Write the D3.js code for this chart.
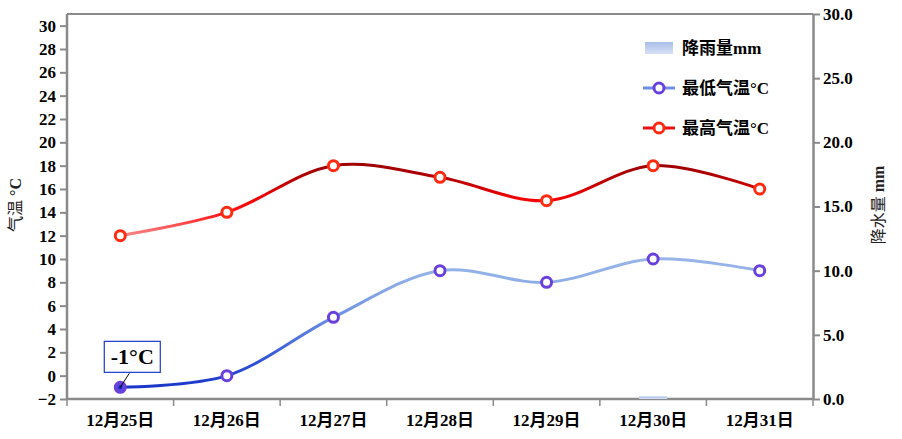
<!DOCTYPE html>
<html><head><meta charset="utf-8">
<script src="https://cdn.jsdelivr.net/npm/d3@7"></script>
<style>
html,body{margin:0;padding:0;background:#fff;}
svg{display:block;}
text{font-family:"Liberation Serif","Noto Sans CJK SC",serif;}
</style></head>
<body>
<svg id="chart" width="902" height="439"></svg>
<script>
const categories = ["12月25日","12月26日","12月27日","12月28日","12月29日","12月30日","12月31日"];
const lowTemp  = [-1, 0, 5, 9, 8, 10, 9];
const highTemp = [12, 14, 18, 17, 15, 18, 16];
const rainfall = [0, 0, 0, 0, 0, 0.2, 0];
const tempTicks = [-2,0,2,4,6,8,10,12,14,16,18,20,22,24,26,28,30];
const rainTicks = [0,5,10,15,20,25,30];
const legendItems = ["降雨量mm","最低气温°C","最高气温°C"];
const annotationText = "-1°C";

const svg = d3.select("#chart");
const L = 67, R = 813, T = 14, B = 399;

const x = d3.scaleBand().domain(categories).range([L, R]).padding(0);
const yT = d3.scaleLinear().domain([-2, 31]).range([B, T]);
const yR = d3.scaleLinear().domain([0, 30]).range([B, T]);

const defs = svg.append("defs");
const gHigh = defs.append("linearGradient").attr("id","gHigh")
  .attr("gradientUnits","userSpaceOnUse").attr("x1",0).attr("x2",0)
  .attr("y1",yT(12)).attr("y2",yT(18));
[[0,"#f58a8a"],[0.3,"#ff1a1a"],[0.55,"#f00000"],[0.8,"#b80000"],[1,"#a00000"]]
  .forEach(s=>gHigh.append("stop").attr("offset",s[0]).attr("stop-color",s[1]));
const gLow = defs.append("linearGradient").attr("id","gLow")
  .attr("gradientUnits","userSpaceOnUse").attr("x1",0).attr("x2",0)
  .attr("y1",yT(-1)).attr("y2",yT(10));
[[0,"#1a36c8"],[0.2,"#2f52d8"],[0.55,"#6e90e2"],[0.85,"#90b0e8"],[1,"#98b4e8"]]
  .forEach(s=>gLow.append("stop").attr("offset",s[0]).attr("stop-color",s[1]));
const gRain = defs.append("linearGradient").attr("id","gRain")
  .attr("x1",0).attr("x2",0).attr("y1",0).attr("y2",1);
[[0,"#a8bde8"],[1,"#d8e2f6"]]
  .forEach(s=>gRain.append("stop").attr("offset",s[0]).attr("stop-color",s[1]));

const axisColor = "#8a8a8a";
const tickFont = "bold 17px 'Liberation Serif','Noto Sans CJK SC',serif";

svg.append("line").attr("x1",L).attr("x2",R).attr("y1",T).attr("y2",T)
  .attr("stroke",axisColor).attr("stroke-width",2);

const gl = svg.append("g").attr("transform",`translate(${L},0)`)
  .call(d3.axisLeft(yT).tickValues(tempTicks).tickSize(7).tickPadding(4).tickSizeOuter(0));
gl.select(".domain").attr("d",`M0,${T}V${B}`);
const gr = svg.append("g").attr("transform",`translate(${R},0)`)
  .call(d3.axisRight(yR).tickValues(rainTicks).tickFormat(d3.format(".1f")).tickSize(7).tickPadding(3).tickSizeOuter(0));
const gb = svg.append("g").attr("transform",`translate(0,${B})`)
  .call(d3.axisBottom(x).tickSize(0).tickPadding(12));
gb.select(".domain").attr("d",`M${L},0H${R}`);
const bounds = categories.map(c=>x(c)).concat([x(categories[categories.length-1])+x.bandwidth()]);
svg.append("g").selectAll("line").data(bounds).join("line")
  .attr("x1",d=>d).attr("x2",d=>d).attr("y1",B).attr("y2",B+7)
  .attr("stroke",axisColor).attr("stroke-width",1.5);

[gl,gr,gb].forEach(g=>{
  g.select(".domain").attr("stroke",axisColor).attr("stroke-width",2.5);
  g.selectAll(".tick line").attr("stroke",axisColor).attr("stroke-width",2);
  g.selectAll(".tick text").style("font",tickFont).attr("fill","#000");
});
gb.selectAll(".tick text").attr("dy","0.9em");

svg.append("text").attr("transform",`translate(21,205) rotate(-90)`)
  .attr("text-anchor","middle").style("font-size","16px").attr("fill","#222")
  .html('<tspan>气温 </tspan><tspan font-weight="bold">°C</tspan>');
svg.append("text").attr("transform",`translate(884,205) rotate(-90)`)
  .attr("text-anchor","middle").style("font-size","16px").attr("fill","#222")
  .html('<tspan>降水量 </tspan><tspan font-weight="bold">mm</tspan>');

svg.append("g").selectAll("rect").data(rainfall.map((v,i)=>({c:categories[i],v})).filter(d=>d.v>0))
  .join("rect")
  .attr("x",d=>x(d.c)+x.bandwidth()/2-14).attr("width",28)
  .attr("y",d=>yR(d.v)).attr("height",d=>yR(0)-yR(d.v))
  .attr("fill","url(#gRain)");

const cx = c => x(c)+x.bandwidth()/2;
const line = d3.line().curve(d3.curveCatmullRom.alpha(0.5));

svg.append("path").attr("d",line(highTemp.map((v,i)=>[cx(categories[i]),yT(v)])))
  .attr("fill","none").attr("stroke","url(#gHigh)").attr("stroke-width",3);
svg.append("path").attr("d",line(lowTemp.map((v,i)=>[cx(categories[i]),yT(v)])))
  .attr("fill","none").attr("stroke","url(#gLow)").attr("stroke-width",3);

svg.append("g").selectAll("circle").data(highTemp).join("circle")
  .attr("cx",(d,i)=>cx(categories[i])).attr("cy",d=>yT(d)).attr("r",5)
  .attr("fill","#fff").attr("stroke","#ff2a10").attr("stroke-width",3);
svg.append("g").selectAll("circle").data(lowTemp).join("circle")
  .attr("cx",(d,i)=>cx(categories[i])).attr("cy",d=>yT(d)).attr("r",5)
  .attr("fill",(d,i)=>i===0?"#5a45dd":"#fff")
  .attr("stroke","#6a40dd").attr("stroke-width",3);
svg.append("circle").attr("cx",cx(categories[0])).attr("cy",yT(lowTemp[0])).attr("r",2)
  .attr("fill","#1a2aa8");

const ax = cx(categories[0]), ay = yT(lowTemp[0]);
svg.append("line").attr("x1",ax).attr("y1",ay).attr("x2",ax+9).attr("y2",ay-14)
  .attr("stroke","#000").attr("stroke-width",1);
svg.append("rect").attr("x",ax-16).attr("y",ay-46).attr("width",56).attr("height",31)
  .attr("fill","#fff").attr("stroke","#1a3acc").attr("stroke-width",1.2);
svg.append("text").attr("x",ax+12).attr("y",ay-23).attr("text-anchor","middle")
  .style("font","bold 22px 'Liberation Serif','Noto Sans CJK SC',serif").attr("fill","#000")
  .text(annotationText);

const lg = svg.append("g");
const ly = [48, 88, 128];
lg.append("rect").attr("x",645).attr("y",ly[0]-6).attr("width",28).attr("height",12)
  .attr("fill","url(#gRain)");
lg.append("line").attr("x1",643).attr("x2",675).attr("y1",ly[1]).attr("y2",ly[1])
  .attr("stroke","#6f8fe2").attr("stroke-width",3);
lg.append("circle").attr("cx",659).attr("cy",ly[1]).attr("r",5)
  .attr("fill","#fff").attr("stroke","#6a40dd").attr("stroke-width",3);
lg.append("line").attr("x1",643).attr("x2",675).attr("y1",ly[2]).attr("y2",ly[2])
  .attr("stroke","#e81010").attr("stroke-width",3);
lg.append("circle").attr("cx",659).attr("cy",ly[2]).attr("r",5)
  .attr("fill","#fff").attr("stroke","#ff2a10").attr("stroke-width",3);
lg.selectAll("text.lt").data(legendItems).join("text").attr("class","lt")
  .attr("x",682).attr("y",(d,i)=>ly[i]+6)
  .style("font","bold 17px 'Liberation Serif','Noto Sans CJK SC',serif").attr("fill","#000")
  .text(d=>d);
</script>
</body></html>
